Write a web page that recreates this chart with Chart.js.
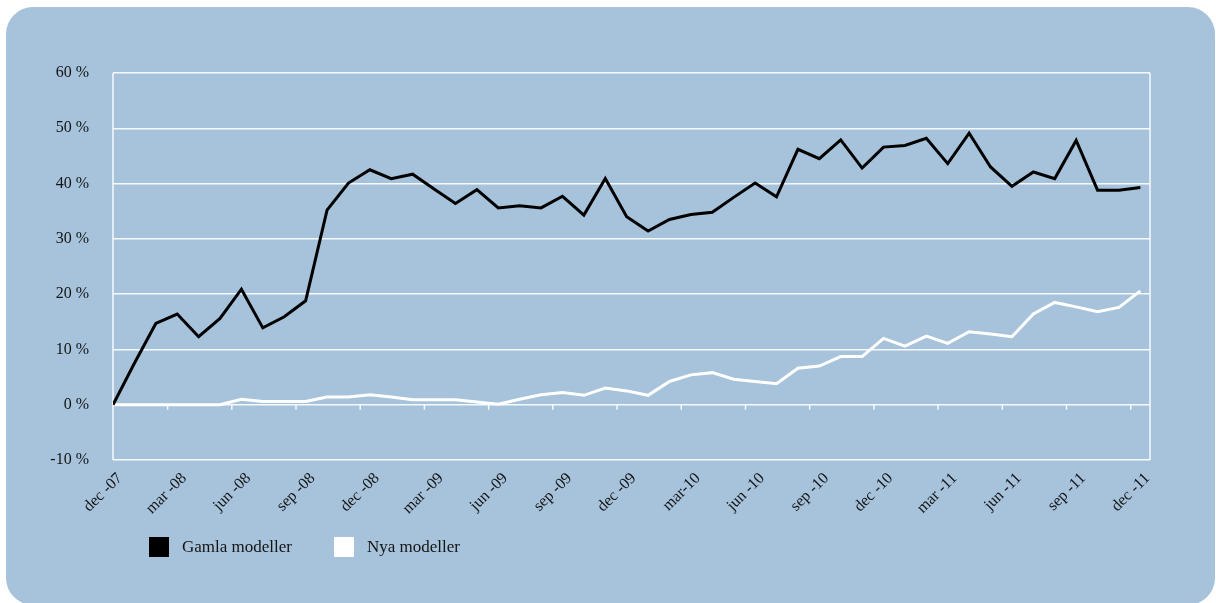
<!DOCTYPE html>
<html>
<head>
<meta charset="utf-8">
<title>Gamla och nya modeller</title>
<script src="https://cdn.jsdelivr.net/npm/chart.js@4.4.1/dist/chart.umd.min.js"></script>
<style>
  html, body { margin: 0; padding: 0; background: #ffffff; }
  #wrap { position: relative; width: 1216px; height: 603px; }
</style>
</head>
<body>
<div id="wrap"><canvas id="chart"></canvas></div>
<script>
// Monthly data, dec-07 .. dec-11 (49 months)
const tickLabels = [
  "dec -07", "mar -08", "jun -08", "sep -08", "dec -08", "mar -09", "jun -09", "sep -09",
  "dec -09", "mar-10", "jun -10", "sep -10", "dec -10", "mar -11", "jun -11", "sep -11", "dec -11"
];

const gamlaModeller = [
  0, 7.5, 14.7, 16.4, 12.3, 15.6, 20.9, 13.9, 15.9, 18.8,
  35.2, 40.1, 42.5, 40.9, 41.7, 39.0, 36.4, 38.9, 35.6, 36.0,
  35.6, 37.7, 34.3, 40.9, 34.0, 31.4, 33.5, 34.4, 34.8, 37.5,
  40.1, 37.6, 46.2, 44.5, 47.9, 42.8, 46.6, 46.9, 48.2, 43.6,
  49.1, 43.0, 39.5, 42.1, 40.9, 47.8, 38.8, 38.8, 39.3
];

const nyaModeller = [
  0, 0, 0, 0, 0, 0, 1.0, 0.6, 0.6, 0.6,
  1.4, 1.4, 1.8, 1.4, 0.9, 0.9, 0.9, 0.5, 0.1, 1.0,
  1.8, 2.2, 1.7, 3.0, 2.5, 1.7, 4.2, 5.4, 5.8, 4.6,
  4.2, 3.8, 6.6, 7.0, 8.7, 8.7, 12.0, 10.6, 12.4, 11.1,
  13.2, 12.8, 12.3, 16.4, 18.5, 17.7, 16.8, 17.6, 20.6
];

const PANEL = "#a6c3db";
const TEXT = "#141414";
const FONT = "'Liberation Serif', 'DejaVu Serif', serif";

function toPoints(values) {
  return values.map((v, i) => ({ x: i, y: v }));
}

// rounded light-blue panel behind everything
const panelPlugin = {
  id: "panel",
  beforeDraw(chart) {
    const { ctx, width, height } = chart;
    ctx.save();
    ctx.fillStyle = "#ffffff";
    ctx.fillRect(0, 0, width, height);
    ctx.fillStyle = PANEL;
    ctx.beginPath();
    ctx.roundRect(6, 7, 1209, 598, 27);
    ctx.fill();
    ctx.restore();
  },
};

// plot frame, small axis ticks on the 0 % line, and the legend
const framePlugin = {
  id: "frame",
  beforeDatasetsDraw(chart) {
    const { ctx, chartArea: a, scales } = chart;
    ctx.save();
    ctx.strokeStyle = "rgba(255,255,255,0.9)";
    ctx.lineWidth = 1.5;
    ctx.beginPath();
    ctx.moveTo(a.left, a.top);
    ctx.lineTo(a.left, a.bottom);
    ctx.moveTo(a.right, a.top);
    ctx.lineTo(a.right, a.bottom);
    const y0 = scales.y.getPixelForValue(0);
    for (let k = 0; k < tickLabels.length - 1; k++) {
      const x = scales.x.getPixelForValue(2.55 + k * 3);
      ctx.moveTo(x, y0);
      ctx.lineTo(x, y0 + 5);
    }
    ctx.stroke();
    ctx.restore();
  },
  afterDraw(chart) {
    const { ctx } = chart;
    const items = [
      { x: 149, ds: chart.data.datasets[0] },
      { x: 334, ds: chart.data.datasets[1] },
    ];
    ctx.save();
    ctx.font = "17px " + FONT;
    ctx.textBaseline = "middle";
    items.forEach((it) => {
      ctx.fillStyle = it.ds.borderColor;
      ctx.fillRect(it.x, 537, 20, 20);
      ctx.fillStyle = TEXT;
      ctx.fillText(it.ds.label, it.x + 33, 548);
    });
    ctx.restore();
  },
};

new Chart(document.getElementById("chart"), {
  type: "line",
  data: {
    datasets: [
      {
        label: "Gamla modeller",
        data: toPoints(gamlaModeller),
        borderColor: "#000000",
        backgroundColor: "#000000",
        borderWidth: 3,
        pointRadius: 0,
        tension: 0,
        order: 1,
      },
      {
        label: "Nya modeller",
        data: toPoints(nyaModeller),
        borderColor: "#ffffff",
        backgroundColor: "#ffffff",
        borderWidth: 3,
        pointRadius: 0,
        tension: 0,
        order: 2,
      },
    ],
  },
  options: {
    responsive: true,
    maintainAspectRatio: false,
    animation: false,
    layout: { padding: { left: 30, right: 66, top: 73, bottom: 63 } },
    plugins: {
      legend: { display: false },
      tooltip: { enabled: false },
    },
    scales: {
      x: {
        type: "linear",
        min: 0,
        max: 48.45,
        afterFit: (s) => { s.height = 80; },
        grid: { display: false },
        border: { display: false },
        ticks: {
          stepSize: 3,
          includeBounds: false,
          autoSkip: false,
          maxRotation: 45,
          minRotation: 45,
          padding: 1,
          labelOffset: 7,
          color: TEXT,
          font: { family: FONT, size: 16 },
          callback: (v) => tickLabels[v / 3] ?? "",
        },
      },
      y: {
        min: -10,
        max: 60,
        afterFit: (s) => { s.width = 83; },
        grid: {
          color: "rgba(255,255,255,0.9)",
          lineWidth: 1.5,
          drawTicks: false,
        },
        border: { display: false },
        ticks: {
          stepSize: 10,
          padding: 24,
          color: TEXT,
          font: { family: FONT, size: 16 },
          callback: (v) => v + " %",
        },
      },
    },
  },
  plugins: [panelPlugin, framePlugin],
});
</script>
</body>
</html>
